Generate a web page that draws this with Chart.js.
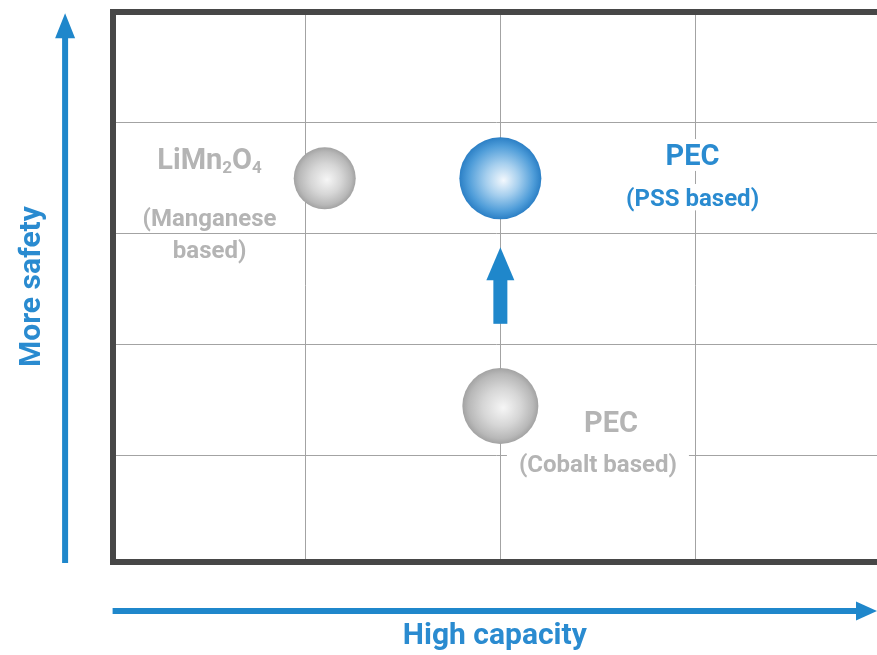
<!DOCTYPE html>
<html>
<head>
<meta charset="utf-8">
<script src="https://cdn.jsdelivr.net/npm/chart.js@4.4.0/dist/chart.umd.min.js"></script>
<style>
  html, body { margin: 0; padding: 0; background: #fff; }
</style>
</head>
<body>
<canvas id="mapChart" width="877" height="655"></canvas>
<script>
// data
const materials = ['LiMn2O4', 'PEC (PSS based)', 'PEC (Cobalt based)'];
const capacity = [1.1, 2.0, 2.0];
const safety = [3.5, 3.5, 1.45];
const bubbleSize = [31, 41, 38];
const highlighted = [false, true, false];
const xTicks = [1, 2, 3];
const yTicks = [1, 2, 3, 4];
// upgrade arrow: capacity, safety from -> to
const upgradeFrom = [2.0, 2.19];
const upgradeTo = [2.0, 2.88];

const BLUE = '#1f87cb';
const TEXT_BLUE = '#2a8bd0';
const GRAY_TEXT = '#b4b4b4';
const FRAME = '#474747';
const GRID = '#a3a3a3';
const FONT = 'Roboto';

// text blocks placed in chart units
const notes = [
    { parts: [['LiMn', 0], ['2', 1], ['O', 0], ['4', 1]], x: 0.51, y: 3.68, size: 29, color: GRAY_TEXT },
    { parts: [['(Manganese', 0]], x: 0.51, y: 3.15, size: 24, color: GRAY_TEXT },
    { parts: [['based)', 0]], x: 0.51, y: 2.86, size: 24, color: GRAY_TEXT },
    { parts: [['PEC', 0]], x: 2.985, y: 3.71, size: 29, color: TEXT_BLUE },
    { parts: [['(PSS based)', 0]], x: 2.985, y: 3.33, size: 24, color: TEXT_BLUE },
    { parts: [['PEC', 0]], x: 2.567, y: 1.31, size: 29, color: GRAY_TEXT },
    { parts: [['(Cobalt based)', 0]], x: 2.5, y: 0.93, size: 24, color: GRAY_TEXT }
];

function sphere(ctx) {
    const chart = ctx.chart;
    const i = ctx.dataIndex;
    const blue = highlighted[i];
    const edge = blue ? '#2b7fc5' : '#a2a2a2';
    if (ctx.type !== 'data' || !chart.chartArea) return edge;
    const x = chart.scales.x.getPixelForValue(capacity[i]);
    const y = chart.scales.y.getPixelForValue(safety[i]);
    const r = bubbleSize[i];
    const g = chart.ctx.createRadialGradient(x + r * 0.08, y + r * 0.05, 0, x, y, r);
    if (blue) {
        g.addColorStop(0, '#f3f8fd');
        g.addColorStop(0.4, '#a6cfee');
        g.addColorStop(0.8, '#4f9dd9');
        g.addColorStop(1, edge);
    } else {
        g.addColorStop(0, '#f6f6f6');
        g.addColorStop(0.5, '#d6d6d6');
        g.addColorStop(0.85, '#b8b8b8');
        g.addColorStop(1, edge);
    }
    return g;
}

function arrow(ctx, x1, y1, x2, y2, shaft, headW, headL, color) {
    const ang = Math.atan2(y2 - y1, x2 - x1);
    const len = Math.hypot(x2 - x1, y2 - y1);
    ctx.save();
    ctx.translate(x1, y1);
    ctx.rotate(ang);
    ctx.fillStyle = color;
    ctx.fillRect(0, -shaft / 2, len - headL + 1, shaft);
    ctx.beginPath();
    ctx.moveTo(len, 0);
    ctx.lineTo(len - headL, -headW / 2);
    ctx.lineTo(len - headL, headW / 2);
    ctx.closePath();
    ctx.fill();
    ctx.restore();
}

const decor = {
    id: 'decor',
    beforeDatasetsDraw(chart) {
        const ctx = chart.ctx;
        const xs = chart.scales.x, ys = chart.scales.y;
        ctx.save();
        notes.forEach(n => {
            const cx = xs.getPixelForValue(n.x);
            const cy = ys.getPixelForValue(n.y);
            let w = 0;
            n.parts.forEach(p => {
                ctx.font = 'bold ' + (p[1] ? Math.round(n.size * 0.6) : n.size) + 'px ' + FONT;
                w += ctx.measureText(p[0]).width;
            });
            ctx.fillStyle = '#fff';
            ctx.fillRect(cx - w / 2 - 12, cy - n.size * 0.55, w + 24, n.size * 1.1);
            // baseline so that the cap height is centred on cy
            const base = cy + n.size * 0.355;
            let x = cx - w / 2;
            ctx.fillStyle = n.color;
            ctx.textBaseline = 'alphabetic';
            ctx.textAlign = 'left';
            n.parts.forEach(p => {
                const sz = p[1] ? Math.round(n.size * 0.6) : n.size;
                ctx.font = 'bold ' + sz + 'px ' + FONT;
                ctx.fillText(p[0], x, p[1] ? base + n.size * 0.15 : base);
                x += ctx.measureText(p[0]).width;
            });
        });
        // upgrade arrow
        arrow(ctx,
            xs.getPixelForValue(upgradeFrom[0]), ys.getPixelForValue(upgradeFrom[1]),
            xs.getPixelForValue(upgradeTo[0]), ys.getPixelForValue(upgradeTo[1]),
            14, 28, 33, BLUE);
        ctx.restore();
    },
    afterDraw(chart) {
        const ctx = chart.ctx;
        const a = chart.chartArea;
        // axis direction arrows
        arrow(ctx, a.left - 47.5, a.bottom + 1.5, a.left - 47.5, a.top + 1.5, 6, 20, 25, BLUE);
        arrow(ctx, a.left, a.bottom + 49.5, a.right, a.bottom + 49.5, 6, 19, 21, BLUE);
    }
};

new Chart(document.getElementById('mapChart'), {
    type: 'bubble',
    data: {
        labels: materials,
        datasets: [{
            data: capacity.map((c, i) => ({ x: c, y: safety[i], r: bubbleSize[i] })),
            backgroundColor: sphere,
            borderWidth: 0,
            hoverRadius: 0
        }]
    },
    plugins: [decor],
    options: {
        responsive: false,
        devicePixelRatio: 1,
        animation: false,
        events: [],
        layout: { autoPadding: false, padding: { left: 0, top: 11.7, right: 0, bottom: 0 } },
        plugins: { legend: { display: false }, tooltip: { enabled: false } },
        scales: {
            x: {
                type: 'linear',
                position: 'bottom',
                min: 0.013,
                max: 3.93,
                afterBuildTicks: s => { s.ticks = xTicks.map(v => ({ value: v })); },
                ticks: { display: false },
                grid: { color: GRID, lineWidth: 1, drawTicks: false },
                border: { display: true, color: FRAME, width: 6 },
                title: {
                    display: true,
                    text: 'High capacity',
                    color: TEXT_BLUE,
                    font: { family: FONT, size: 30, weight: 'bold' },
                    padding: { top: 57.3, bottom: 0.2 }
                }
            },
            x2: {
                type: 'linear',
                position: 'top',
                display: true,
                min: 0.013,
                max: 3.93,
                ticks: { display: false },
                grid: { display: true, drawOnChartArea: false, drawTicks: false },
                border: { display: true, color: FRAME, width: 6 }
            },
            y: {
                type: 'linear',
                position: 'left',
                min: 0.05,
                max: 5,
                afterBuildTicks: s => { s.ticks = yTicks.map(v => ({ value: v })); },
                ticks: { display: false },
                grid: { color: GRID, lineWidth: 1, drawTicks: false },
                border: { display: true, color: FRAME, width: 6 },
                title: {
                    display: true,
                    text: 'More safety',
                    color: TEXT_BLUE,
                    font: { family: FONT, size: 30, weight: 'bold' },
                    padding: { top: 14, bottom: 62.6 }
                }
            }
        }
    }
});
</script>
</body>
</html>
